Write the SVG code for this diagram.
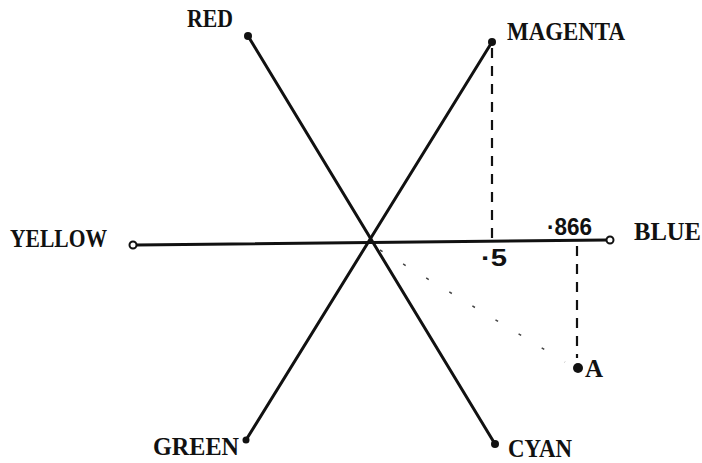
<svg xmlns="http://www.w3.org/2000/svg" width="702" height="463" viewBox="0 0 702 463">
<style>
.lbl{font-family:"Liberation Serif",serif;font-weight:bold;font-size:25px;fill:#111}
.num{font-family:"Liberation Sans",sans-serif;font-weight:bold;font-size:24px;fill:#111}
.ax{stroke:#111;stroke-width:3;fill:none;stroke-linecap:round}
.dash{stroke:#111;stroke-width:2.2;fill:none;stroke-dasharray:10 8}
.dot{stroke:#444;stroke-width:1.5;fill:none;stroke-dasharray:3 24}
</style>
<rect width="702" height="463" fill="#fff"/>
<g id="connectors">
<line class="ax" x1="248" y1="36" x2="495" y2="444"/>
<line class="ax" x1="492" y1="42" x2="246" y2="440"/>
<line class="ax" x1="136" y1="245" x2="607" y2="240"/>
<line class="dash" x1="492" y1="48" x2="492" y2="240"/>
<line class="dash" x1="577" y1="246" x2="577" y2="358"/>
<line class="dot" x1="380" y1="250" x2="565" y2="362"/>
</g>
<g id="red"><circle cx="248" cy="36" r="4" fill="#111"/><text class="lbl" x="187" y="27" textLength="46" lengthAdjust="spacingAndGlyphs">RED</text></g>
<g id="magenta"><circle cx="492" cy="42" r="4" fill="#111"/><text class="lbl" x="507" y="40" textLength="118" lengthAdjust="spacingAndGlyphs">MAGENTA</text></g>
<g id="yellow"><circle cx="133" cy="245" r="3.5" fill="#fff" stroke="#111" stroke-width="2"/><text class="lbl" x="10" y="247" textLength="97" lengthAdjust="spacingAndGlyphs">YELLOW</text></g>
<g id="blue"><circle cx="610" cy="240" r="3.5" fill="#fff" stroke="#111" stroke-width="2"/><text class="lbl" x="634" y="240" textLength="67" lengthAdjust="spacingAndGlyphs">BLUE</text></g>
<g id="green"><circle cx="246" cy="440" r="3.5" fill="#111"/><text class="lbl" x="153" y="455" textLength="86" lengthAdjust="spacingAndGlyphs">GREEN</text></g>
<g id="cyan"><circle cx="495" cy="444" r="4" fill="#111"/><text class="lbl" x="508" y="457" textLength="64" lengthAdjust="spacingAndGlyphs">CYAN</text></g>
<g id="a"><circle cx="578" cy="368" r="5" fill="#111"/><text class="lbl" x="585" y="377" font-size="21">A</text></g>
<g id="marks">
<text class="num" x="547" y="235" textLength="45" lengthAdjust="spacingAndGlyphs">·866</text>
<text class="num" x="481" y="266" textLength="26" lengthAdjust="spacingAndGlyphs">·5</text>
</g>
</svg>
